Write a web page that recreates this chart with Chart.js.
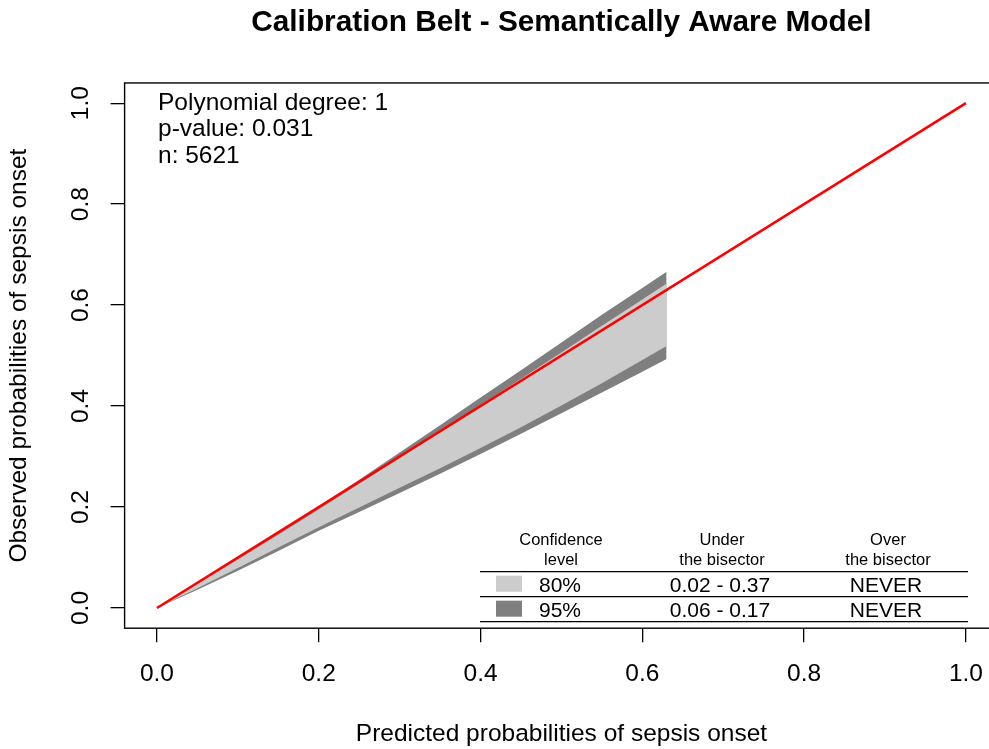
<!DOCTYPE html>
<html>
<head>
<meta charset="utf-8">
<script src="https://cdn.jsdelivr.net/npm/chart.js@4.4.0/dist/chart.umd.min.js"></script>
<style>
  html, body { margin: 0; padding: 0; background: #fff; overflow: hidden; }
  #wrap { width: 989px; height: 749px; overflow: hidden; }
</style>
</head>
<body>
<div id="wrap"><canvas id="belt-chart" width="1000" height="749"></canvas></div>
<script>
// ====== DATA ======
const predicted = [0, 0.05, 0.1, 0.15, 0.2, 0.25, 0.3, 0.35, 0.4, 0.45, 0.5, 0.55, 0.6, 0.63];
const upper95 = [0, 0.049, 0.099, 0.1495, 0.201, 0.254, 0.308, 0.362, 0.417, 0.471, 0.526, 0.581, 0.634, 0.666];
const lower95 = [0, 0.036, 0.074, 0.113, 0.153, 0.190, 0.228, 0.266, 0.305, 0.345, 0.386, 0.427, 0.468, 0.493];
const upper80 = [0, 0.048, 0.096, 0.145, 0.195, 0.246, 0.297, 0.349, 0.402, 0.454, 0.506, 0.559, 0.611, 0.643];
const lower80 = [0, 0.039, 0.079, 0.120, 0.160, 0.199, 0.238, 0.277, 0.317, 0.358, 0.401, 0.445, 0.491, 0.519];
const bisectorX = [0, 1];
const bisectorY = [0, 1];
const tickValues = [0, 0.2, 0.4, 0.6, 0.8, 1.0];

const infoLines = ['Polynomial degree: 1', 'p-value: 0.031', 'n: 5621'];
const tableHeaders = [['Confidence', 'level'], ['Under', 'the bisector'], ['Over', 'the bisector']];
const confLevels = ['80%', '95%'];
const underRanges = ['0.02 - 0.37', '0.06 - 0.17'];
const overRanges = ['NEVER', 'NEVER'];

const LIGHT = 'rgb(204,204,204)';
const DARK = 'rgb(127,127,127)';
const FONT = '"Liberation Sans", Arial, Helvetica, sans-serif';

const toPoints = (xs, ys) => xs.map((x, i) => ({ x: x, y: ys[i] }));

// ====== EXTRA DRAWING (box, rotated y labels, text, table) ======
const extrasPlugin = {
    id: 'extras',
    afterDraw(chart) {
        const ctx = chart.ctx;
        const area = chart.chartArea;
        const yScale = chart.scales.y;
        ctx.save();

        // plot box
        ctx.strokeStyle = '#000';
        ctx.lineWidth = 1.4;
        ctx.strokeRect(area.left, area.top, area.right - area.left, area.bottom - area.top);

        // y tick labels, rotated like R
        ctx.fillStyle = '#000';
        ctx.font = '24.5px ' + FONT;
        ctx.textAlign = 'center';
        ctx.textBaseline = 'middle';
        tickValues.forEach(v => {
            ctx.save();
            ctx.translate(81, yScale.getPixelForValue(v));
            ctx.rotate(-Math.PI / 2);
            ctx.fillText(v.toFixed(1), 0, 0);
            ctx.restore();
        });

        // info text top-left
        ctx.textAlign = 'left';
        ctx.textBaseline = 'alphabetic';
        infoLines.forEach((t, i) => ctx.fillText(t, 158, 110 + i * 26.3));

        // table
        const colX = [561, 722, 888];
        ctx.textAlign = 'center';
        ctx.font = '16.5px ' + FONT;
        tableHeaders.forEach((h, i) => {
            ctx.fillText(h[0], colX[i], 545);
            ctx.fillText(h[1], colX[i], 565);
        });
        ctx.lineWidth = 1.3;
        [571.7, 596.7, 621.7].forEach(y => {
            ctx.beginPath();
            ctx.moveTo(480, y);
            ctx.lineTo(968, y);
            ctx.stroke();
        });
        ctx.font = '21px ' + FONT;
        const rowBase = [591.7, 616.7];
        [LIGHT, DARK].forEach((c, i) => {
            ctx.fillStyle = c;
            ctx.fillRect(496, rowBase[i] - 16, 26, 16);
            ctx.fillStyle = '#000';
            ctx.fillText(confLevels[i], 560, rowBase[i]);
            ctx.fillText(underRanges[i], 720, rowBase[i]);
            ctx.fillText(overRanges[i], 886, rowBase[i]);
        });

        ctx.restore();
    }
};

// ====== AXIS HELPERS ======
function axisOptions(extra) {
    return Object.assign({
        type: 'linear',
        min: -0.04,
        max: 1.04,
        afterBuildTicks: s => { s.ticks = tickValues.map(v => ({ value: v })); },
        border: { display: false },
        grid: {
            display: true,
            drawOnChartArea: false,
            drawTicks: true,
            tickLength: 14,
            color: '#000',
            lineWidth: 1.3
        }
    }, extra);
}

// ====== CHART ======
const ctx = document.getElementById('belt-chart');
new Chart(ctx, {
    type: 'line',
    data: {
        datasets: [
            { data: toPoints(predicted, upper95), fill: '+1', backgroundColor: DARK, borderColor: 'rgba(0,0,0,0)', borderWidth: 0, pointRadius: 0, order: 2 },
            { data: toPoints(predicted, lower95), fill: false, borderColor: 'rgba(0,0,0,0)', borderWidth: 0, pointRadius: 0, order: 2 },
            { data: toPoints(predicted, upper80), fill: '+1', backgroundColor: LIGHT, borderColor: 'rgba(0,0,0,0)', borderWidth: 0, pointRadius: 0, order: 1 },
            { data: toPoints(predicted, lower80), fill: false, borderColor: 'rgba(0,0,0,0)', borderWidth: 0, pointRadius: 0, order: 1 },
            { data: toPoints(bisectorX, bisectorY), fill: false, borderColor: '#ff0000', borderWidth: 2.6, pointRadius: 0, order: 0 }
        ]
    },
    options: {
        responsive: false,
        animation: false,
        layout: { padding: { top: 0, left: 0, bottom: 0, right: 0.6 } },
        font: { family: FONT },
        plugins: {
            legend: { display: false },
            tooltip: { enabled: false },
            title: {
                display: true,
                fullSize: false,
                text: 'Calibration Belt - Semantically Aware Model',
                color: '#000',
                font: { family: FONT, size: 29.8, weight: 'bold' },
                padding: { top: 4.8, bottom: 42.4 }
            }
        },
        scales: {
            x: axisOptions({
                position: 'bottom',
                afterFit: s => { s.height = 120.8; },
                ticks: {
                    color: '#000',
                    font: { family: FONT, size: 24.5 },
                    padding: 17,
                    maxRotation: 0,
                    autoSkip: false,
                    callback: v => Number(v).toFixed(1)
                },
                title: {
                    display: true,
                    text: 'Predicted probabilities of sepsis onset',
                    color: '#000',
                    font: { family: FONT, size: 24.5 },
                    padding: { top: 0, bottom: 0.5 }
                }
            }),
            y: axisOptions({
                position: 'left',
                afterFit: s => { s.width = 124.6; },
                ticks: { display: false },
                title: {
                    display: true,
                    text: 'Observed probabilities of sepsis onset',
                    color: '#000',
                    font: { family: FONT, size: 24.5 },
                    padding: { top: 4.9, bottom: 0 }
                }
            })
        }
    },
    plugins: [extrasPlugin]
});
</script>
</body>
</html>
